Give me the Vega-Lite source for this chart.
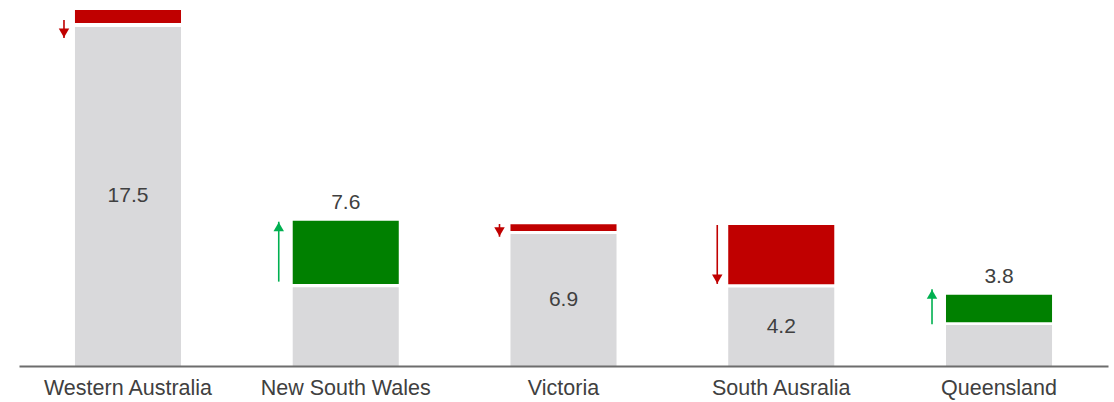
{
  "$schema": "https://vega.github.io/schema/vega-lite/v6.json",
  "width": 1089,
  "height": 366,
  "autosize": {"type": "none"},
  "padding": {"left": 19, "top": 0, "right": 6, "bottom": 36},
  "background": "white",
  "config": {"view": {"stroke": null}, "font": "Liberation Sans"},
  "data": {"values": [
    {"state": "Western Australia", "gray": 17.60, "lo": 17.81, "hi": 18.48, "change": "down", "a_from": 17.96, "a_to": 17.03, "label": "17.5"},
    {"state": "New South Wales", "gray": 4.09, "lo": 4.26, "hi": 7.54, "change": "up", "a_from": 4.38, "a_to": 7.49, "label": "7.6"},
    {"state": "Victoria", "gray": 6.85, "lo": 7.01, "hi": 7.36, "change": "down", "a_from": 7.37, "a_to": 6.71, "label": "6.9"},
    {"state": "South Ausralia", "gray": 4.07, "lo": 4.24, "hi": 7.32, "change": "down", "a_from": 7.32, "a_to": 4.26, "label": "4.2"},
    {"state": "Queensland", "gray": 2.13, "lo": 2.27, "hi": 3.70, "change": "up", "a_from": 2.17, "a_to": 3.98, "label": "3.8"}
  ]},
  "encoding": {
    "x": {
      "field": "state", "type": "nominal", "sort": null,
      "scale": {"paddingInner": 0.513, "paddingOuter": 0.257},
      "axis": {"title": null, "domainColor": "#6d6d6d", "domainWidth": 2, "ticks": false, "labelAngle": 0, "labelFontSize": 21.5, "labelColor": "#404040", "labelPadding": 11, "labelFont": "Liberation Sans", "zindex": 1}
    }
  },
  "layer": [
    {
      "mark": {"type": "bar", "color": "#d9d9db"},
      "encoding": {"y": {"field": "gray", "type": "quantitative", "scale": {"domain": [0, 19]}, "axis": null}}
    },
    {
      "transform": [{"filter": "datum.change == 'down'"}],
      "mark": {"type": "bar", "color": "#c00000"},
      "encoding": {"y": {"field": "lo", "type": "quantitative", "scale": {"domain": [0, 19]}, "axis": null}, "y2": {"field": "hi"}}
    },
    {
      "transform": [{"filter": "datum.change == 'up'"}],
      "mark": {"type": "bar", "color": "#008000"},
      "encoding": {"y": {"field": "lo", "type": "quantitative", "scale": {"domain": [0, 19]}, "axis": null}, "y2": {"field": "hi"}}
    },
    {
      "transform": [{"filter": "datum.change == 'down'"}],
      "mark": {"type": "rule", "color": "#c00000", "strokeWidth": 1.6, "xOffset": -64},
      "encoding": {"y": {"field": "a_from", "type": "quantitative", "scale": {"domain": [0, 19]}, "axis": null}, "y2": {"field": "a_to"}}
    },
    {
      "transform": [{"filter": "datum.change == 'down'"}],
      "mark": {"type": "point", "shape": "triangle-down", "filled": true, "opacity": 1, "color": "#c00000", "size": 110, "xOffset": -64, "yOffset": -5},
      "encoding": {"y": {"field": "a_to", "type": "quantitative", "scale": {"domain": [0, 19]}, "axis": null}}
    },
    {
      "transform": [{"filter": "datum.change == 'up'"}],
      "mark": {"type": "rule", "color": "#00b050", "strokeWidth": 1.6, "xOffset": -67},
      "encoding": {"y": {"field": "a_from", "type": "quantitative", "scale": {"domain": [0, 19]}, "axis": null}, "y2": {"field": "a_to"}}
    },
    {
      "transform": [{"filter": "datum.change == 'up'"}],
      "mark": {"type": "point", "shape": "triangle-up", "filled": true, "opacity": 1, "color": "#00b050", "size": 110, "xOffset": -67, "yOffset": 5},
      "encoding": {"y": {"field": "a_to", "type": "quantitative", "scale": {"domain": [0, 19]}, "axis": null}}
    },
    {
      "transform": [{"filter": "datum.change == 'up'"}],
      "mark": {"type": "text", "fontSize": 21, "color": "#404040", "baseline": "middle", "dy": -18},
      "encoding": {"y": {"field": "hi", "type": "quantitative", "scale": {"domain": [0, 19]}, "axis": null}, "text": {"field": "label"}}
    },
    {
      "transform": [{"filter": "datum.change == 'down'"}],
      "mark": {"type": "text", "fontSize": 21, "color": "#404040", "baseline": "middle"},
      "encoding": {"y": {"field": "gray", "type": "quantitative", "scale": {"domain": [0, 38]}, "axis": null}, "text": {"field": "label"}}
    }
  ],
  "resolve": {"scale": {"y": "independent"}}
}
